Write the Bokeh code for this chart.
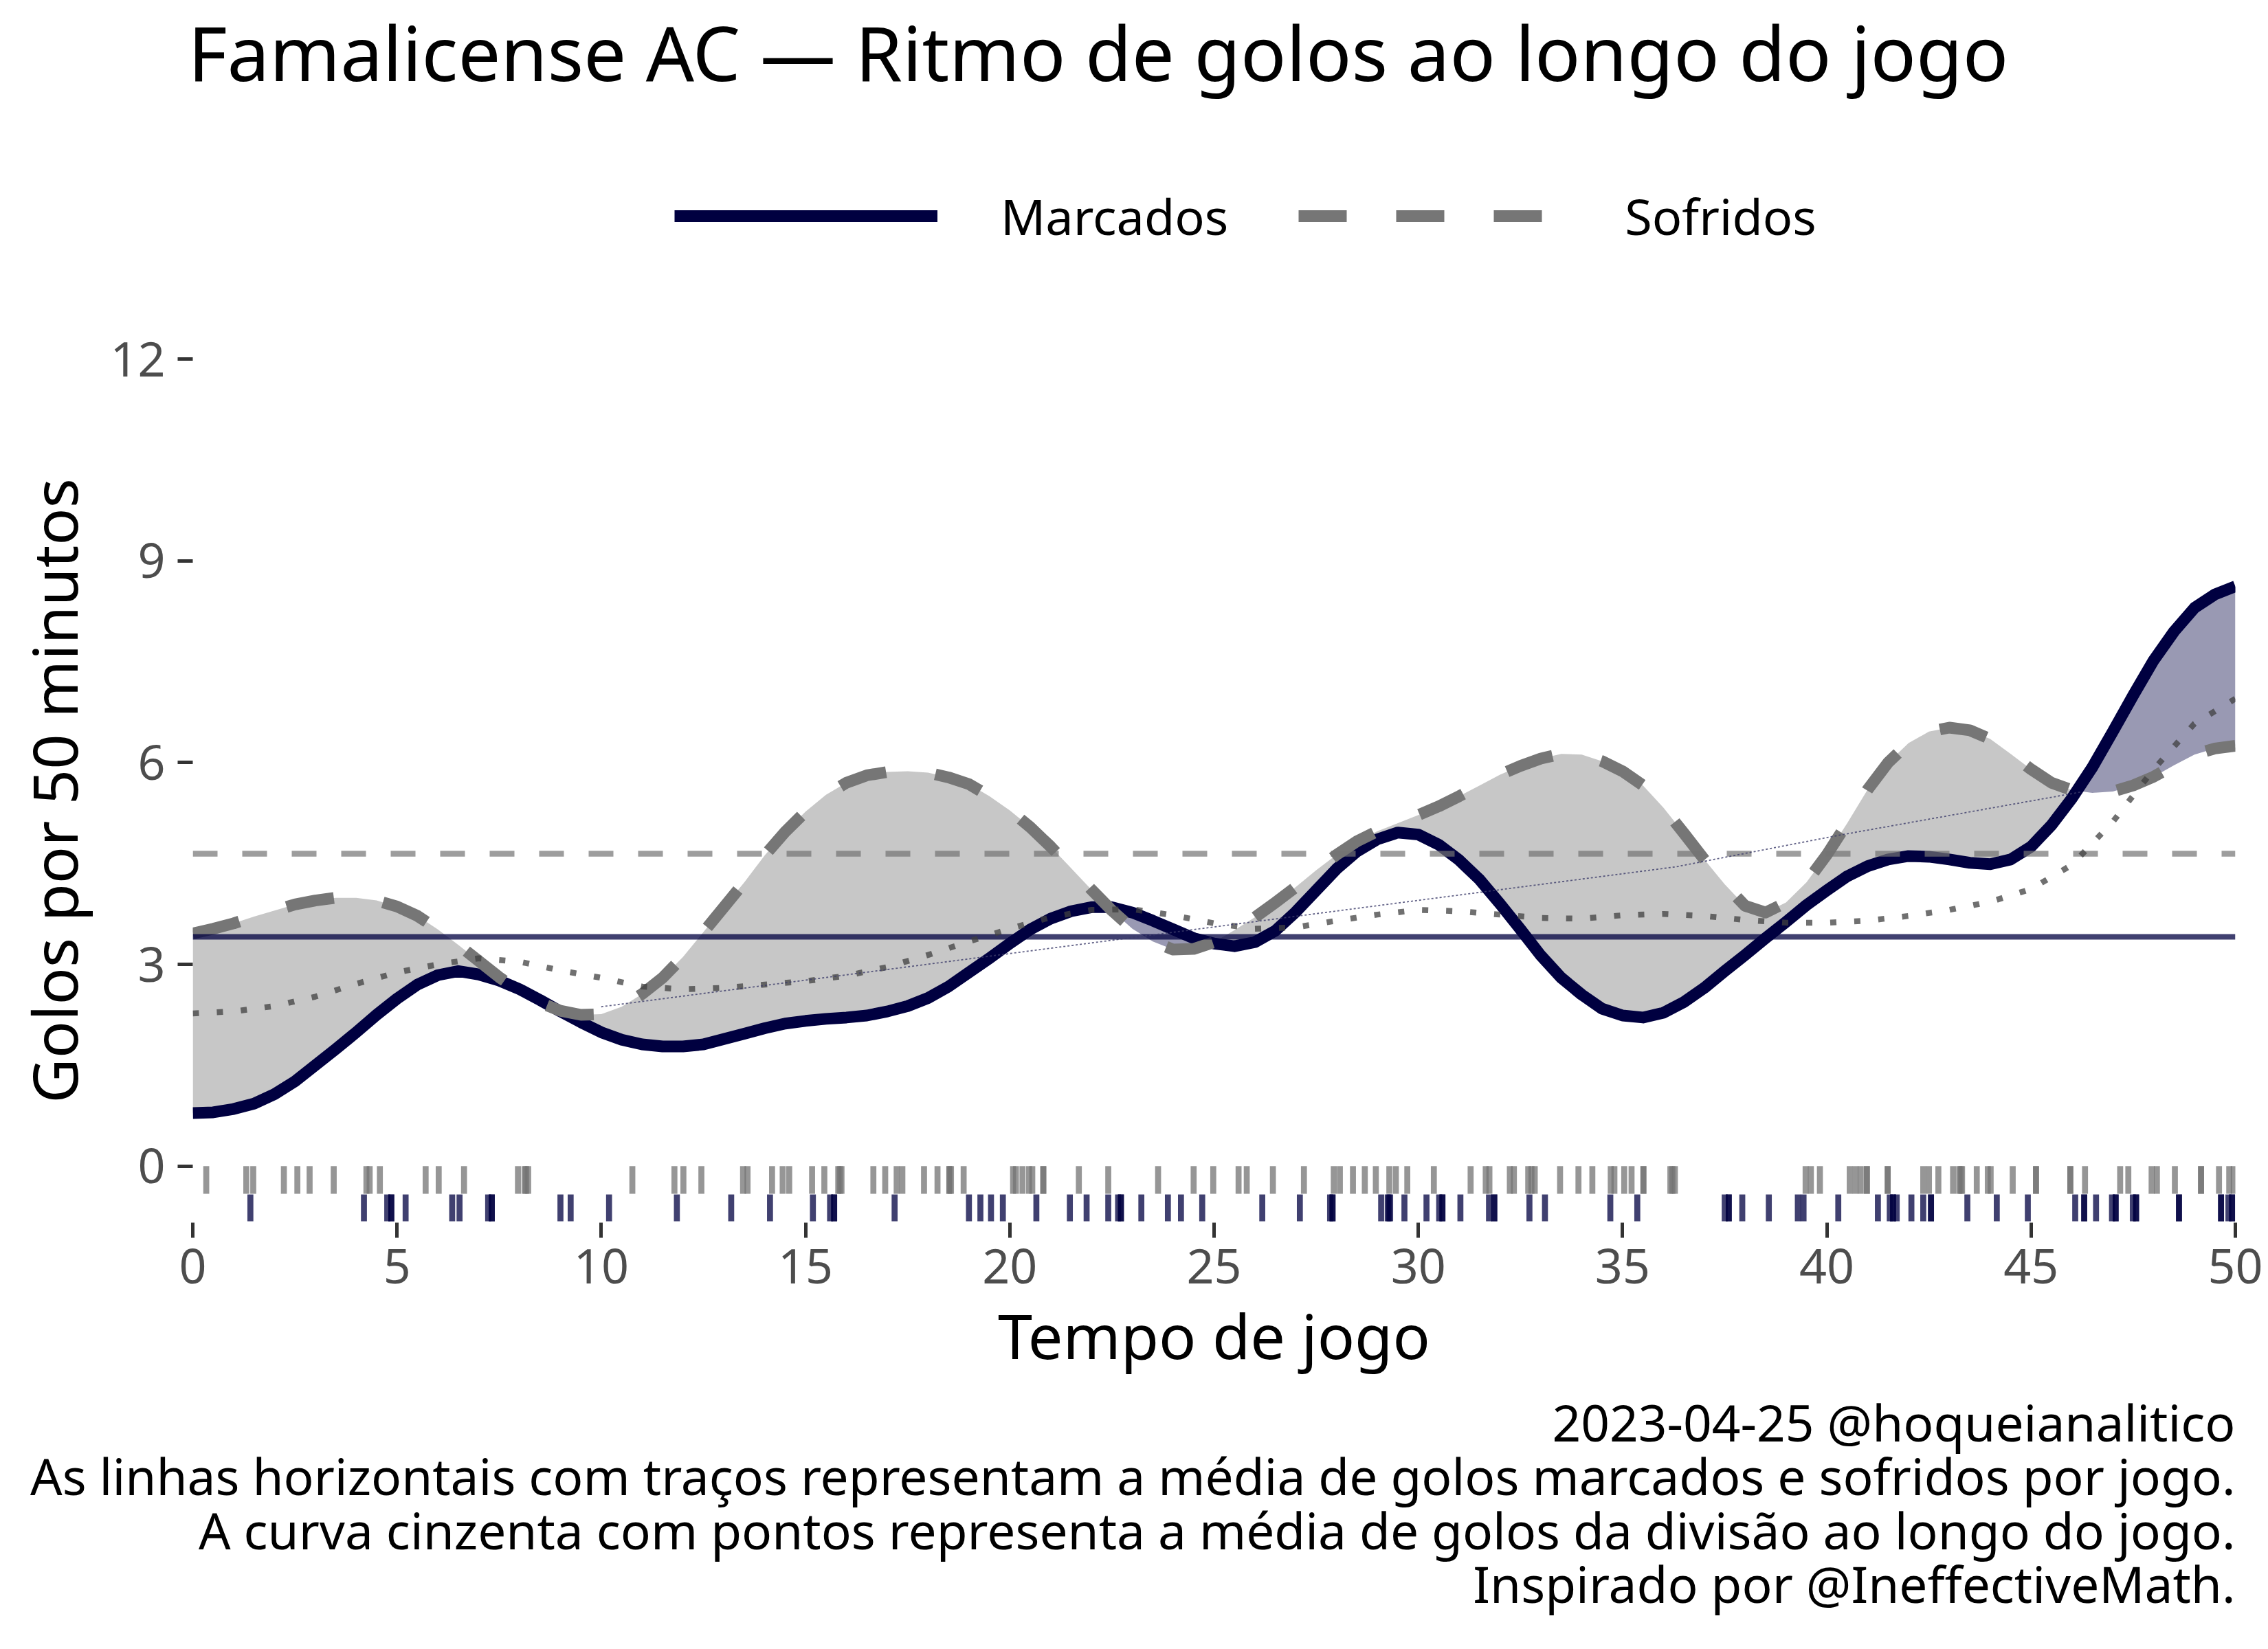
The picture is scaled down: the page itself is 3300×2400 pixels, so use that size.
import numpy as np
from bokeh.plotting import figure
from bokeh.layouts import column
from bokeh.models import Range1d, Legend, LegendItem, Label, FixedTicker
from bokeh.embed import file_html
from bokeh.resources import INLINE

# ---------------- data ----------------
minutos = [i * 0.5 for i in range(101)]
marcados = [0.79, 0.80, 0.85, 0.93, 1.07, 1.26, 1.50, 1.74, 1.99, 2.25,
            2.49, 2.70, 2.84, 2.90, 2.85, 2.76, 2.63, 2.47, 2.30, 2.14,
            1.99, 1.88, 1.81, 1.78, 1.78, 1.81, 1.89, 1.97, 2.05, 2.12,
            2.16, 2.19, 2.21, 2.24, 2.30, 2.38, 2.50, 2.67, 2.88, 3.09,
            3.31, 3.52, 3.68, 3.79, 3.85, 3.85, 3.77, 3.65, 3.52, 3.39,
            3.31, 3.27, 3.33, 3.50, 3.78, 4.10, 4.42, 4.68, 4.86, 4.96,
            4.93, 4.78, 4.55, 4.26, 3.90, 3.52, 3.13, 2.80, 2.55, 2.34,
            2.24, 2.21, 2.28, 2.44, 2.65, 2.90, 3.14, 3.39, 3.63, 3.88,
            4.10, 4.31, 4.46, 4.56, 4.61, 4.60, 4.56, 4.51, 4.49, 4.56,
            4.75, 5.07, 5.47, 5.93, 6.46, 7.00, 7.52, 7.95, 8.30, 8.50, 8.62]
sofridos = [3.46, 3.53, 3.61, 3.71, 3.80, 3.89, 3.95, 3.99, 3.99, 3.95,
            3.86, 3.72, 3.52, 3.29, 3.05, 2.81, 2.60, 2.43, 2.31, 2.25,
            2.26, 2.37, 2.56, 2.80, 3.11, 3.48, 3.85, 4.22, 4.62, 4.97,
            5.27, 5.52, 5.70, 5.81, 5.86, 5.87, 5.85, 5.78, 5.68, 5.50,
            5.29, 5.04, 4.75, 4.43, 4.11, 3.80, 3.53, 3.34, 3.22, 3.23,
            3.33, 3.51, 3.70, 3.92, 4.15, 4.40, 4.63, 4.83, 4.98, 5.10,
            5.22, 5.35, 5.50, 5.66, 5.82, 5.95, 6.06, 6.13, 6.12, 6.02,
            5.87, 5.66, 5.33, 4.95, 4.56, 4.19, 3.87, 3.77, 3.92, 4.22,
            4.63, 5.10, 5.60, 6.00, 6.29, 6.46, 6.52, 6.48, 6.35, 6.13,
            5.90, 5.70, 5.59, 5.55, 5.57, 5.66, 5.79, 5.96, 6.12, 6.21, 6.25]
minutos_liga = list(range(0, 51))
liga = [2.27, 2.30, 2.38, 2.52, 2.71, 2.88, 3.00, 3.09, 3.04, 2.91,
        2.80, 2.67, 2.63, 2.65, 2.70, 2.75, 2.83, 2.96, 3.14, 3.34,
        3.53, 3.70, 3.81, 3.82, 3.73, 3.61, 3.53, 3.55, 3.65, 3.74,
        3.81, 3.79, 3.74, 3.69, 3.68, 3.73, 3.75, 3.72, 3.66, 3.62,
        3.62, 3.65, 3.72, 3.81, 3.93, 4.12, 4.48, 5.12, 5.90, 6.58, 6.95]
media_marcados = 3.41
media_sofridos = 4.645
tendencia_x = [10.0, 36.3, 40.3, 46.2]
tendencia_y = [2.37, 4.45, 4.92, 5.56]

rug_sofridos = [0.33, 1.31, 1.48, 2.23, 2.56, 2.86, 3.45, 4.25, 4.33, 4.58, 5.70, 6.02, 6.64,
                7.96, 8.12, 8.21, 8.16, 10.76, 11.79, 12.01, 12.45, 13.47, 13.58, 14.18, 14.44,
                14.60, 15.16, 15.46, 15.80, 15.84, 15.88, 16.66, 16.95, 17.23, 17.37, 17.90,
                18.23, 18.52, 18.52, 18.56, 18.87, 20.08, 20.15, 20.31, 20.47, 20.55, 20.82,
                20.82, 21.69, 22.41, 23.63, 24.50, 24.98, 25.60, 25.80, 26.44, 27.20, 27.93,
                28.08, 28.40, 28.69, 28.96, 29.29, 29.45, 29.73, 30.38, 31.28, 31.65, 31.74,
                32.24, 32.34, 32.69, 32.77, 32.85, 33.47, 33.92, 34.26, 34.71, 34.80, 35.04,
                35.22, 35.51, 35.51, 36.17, 36.22, 36.28, 39.48, 39.61, 39.83, 40.56, 40.70,
                40.83, 40.98, 40.98, 41.49, 41.49, 42.36, 42.50, 42.73, 43.09, 43.24, 43.28,
                43.31, 43.67, 43.94, 44.01, 44.55, 45.12, 45.12, 45.96, 45.96, 46.32, 47.18,
                47.38, 47.95, 48.08, 48.52, 49.16, 49.16, 49.60, 49.85, 49.96]
rug_marcados = [1.41, 4.19, 4.76, 4.86, 4.86, 5.21, 6.35, 6.53, 7.23, 7.32, 7.32, 9.00, 9.25,
                10.19, 11.85, 13.18, 14.13, 15.18, 15.60, 15.70, 15.70, 17.18, 19.00, 19.28,
                19.54, 19.83, 20.65, 21.47, 21.88, 22.41, 22.65, 22.72, 22.72, 23.22, 23.87,
                24.19, 24.71, 26.18, 27.10, 27.84, 27.90, 27.90, 29.09, 29.25, 29.28, 29.31,
                29.66, 30.20, 30.51, 30.59, 30.59, 31.03, 31.73, 31.86, 31.86, 32.72, 33.10,
                34.70, 35.36, 37.50, 37.60, 37.60, 37.93, 38.58, 39.29, 39.43, 40.28, 41.25,
                41.54, 41.62, 41.62, 41.71, 42.07, 42.36, 42.55, 42.55, 43.44, 44.16, 44.92,
                46.08, 46.30, 46.30, 46.59, 46.98, 47.07, 47.07, 47.49, 47.57, 47.57, 48.62,
                48.62, 49.65, 49.65, 49.83, 49.92, 49.92]

x_ticks = [0, 5, 10, 15, 20, 25, 30, 35, 40, 45, 50]
y_ticks = [0, 3, 6, 9, 12]

titulo = "Famalicense AC \u2014 Ritmo de golos ao longo do jogo"
legenda = ["Marcados", "Sofridos"]
rotulo_x = "Tempo de jogo"
rotulo_y = "Golos por 50 minutos"
nota = ["2023-04-25 @hoqueianalitico",
        "As linhas horizontais com tra\u00e7os representam a m\u00e9dia de golos marcados e sofridos por jogo.",
        "A curva cinzenta com pontos representa a m\u00e9dia de golos da divis\u00e3o ao longo do jogo.",
        "Inspirado por @IneffectiveMath."]

# ---------------- styling constants ----------------
FONT = "Noto Sans"
NAVY = "#000040"
GREY = "#737373"
W = 3292
TOP_H = 462
CAP_H = 381

# ---------------- main figure ----------------
p = figure(frame_width=2972, frame_height=1257,
           x_range=Range1d(0, 50), y_range=Range1d(-0.84, 12),
           min_border_left=280, min_border_right=40,
           min_border_top=60, min_border_bottom=232,
           output_backend="svg", toolbar_location=None)
p.outline_line_color = None
p.background_fill_color = "white"
p.border_fill_color = "white"
p.xgrid.visible = False
p.ygrid.visible = False

x = np.array(minutos, dtype=float)
m = np.array(marcados)
s = np.array(sofridos)
top = np.maximum(m, s)

p.varea(x=x, y1=m, y2=top, fill_color=GREY, fill_alpha=0.4)
p.varea(x=x, y1=s, y2=top, fill_color=NAVY, fill_alpha=0.4)

p.line(x, m, line_color=NAVY, line_width=17, line_join="round")
p.line(x, s, line_color="#767676", line_width=17, line_dash="70 72", line_join="round")

p.line([0, 50], [media_marcados, media_marcados], line_color=NAVY, line_alpha=0.75, line_width=8)
p.line([0, 50], [media_sofridos, media_sofridos], line_color=GREY, line_alpha=0.7,
       line_width=8.5, line_dash="36 36")

p.line(minutos_liga, liga, line_color="#404040", line_alpha=0.75, line_width=8.5, line_dash="9 26")
p.line(tendencia_x, tendencia_y, line_color="#3c3c6a", line_alpha=0.8, line_width=1.8, line_dash="3 3")

p.segment(x0=rug_sofridos, y0=0, x1=rug_sofridos, y1=-0.41,
          line_color=GREY, line_alpha=0.75, line_width=8.7)
p.segment(x0=rug_marcados, y0=-0.42, x1=rug_marcados, y1=-0.82,
          line_color=NAVY, line_alpha=0.75, line_width=8.7)

for ax in (p.xaxis[0], p.yaxis[0]):
    ax.axis_line_color = None
    ax.major_tick_out = 22
    ax.major_tick_in = 0
    ax.major_tick_line_width = 5
    ax.major_tick_line_color = "#333333"
    ax.minor_tick_line_color = None
    ax.major_label_text_font = FONT
    ax.major_label_text_font_size = "70px"
    ax.major_label_text_color = "#4d4d4d"
    ax.axis_label_text_font = FONT
    ax.axis_label_text_font_size = "90px"
    ax.axis_label_text_font_style = "normal"
    ax.axis_label_text_color = "black"

p.xaxis.ticker = FixedTicker(ticks=x_ticks)
p.yaxis.ticker = FixedTicker(ticks=y_ticks)
p.xaxis.axis_label = rotulo_x
p.yaxis.axis_label = rotulo_y
p.xaxis.major_label_standoff = 16
p.xaxis.axis_label_standoff = 11
p.yaxis.major_label_standoff = 18
p.yaxis.axis_label_standoff = 18


def blank(h):
    f = figure(width=W, height=h, x_range=Range1d(0, W), y_range=Range1d(0, h),
               x_axis_type=None, y_axis_type=None, min_border=0,
               output_backend="svg", toolbar_location=None)
    f.outline_line_color = None
    f.background_fill_color = "white"
    f.border_fill_color = "white"
    return f


# header frame is aligned with the main frame (left edge at page x = 280)
head = blank(TOP_H)
head.add_layout(Label(x=-7, y=TOP_H - 124.5 + 50, x_units="screen", y_units="screen", text=titulo,
                      text_font=FONT, text_font_size="110px", text_color="black",
                      text_align="left", text_baseline="alphabetic"))
lm = head.line(x=[0], y=[0], line_color=NAVY, line_width=17)
ls = head.line(x=[0], y=[0], line_color="#767676", line_width=17, line_dash="70 72")
leg = Legend(items=[LegendItem(label=legenda[0], renderers=[lm]),
                    LegendItem(label=legenda[1], renderers=[ls])],
             orientation="horizontal", location=(701, TOP_H - 364),
             glyph_width=383, glyph_height=100, label_height=100,
             label_standoff=92, spacing=102, padding=0, margin=0,
             label_text_font=FONT, label_text_font_size="72px",
             label_text_color="black",
             border_line_color=None, background_fill_alpha=0)
head.add_layout(leg)

# caption in its own outer-level block so its frame spans the full width
cap = blank(CAP_H)
for line, yb in zip(nota, [323, 245, 166, 88]):
    cap.add_layout(Label(x=3252, y=yb, x_units="screen", y_units="screen", text=line,
                         text_font=FONT, text_font_size="73px", text_color="black",
                         text_align="right", text_baseline="alphabetic"))

layout = column(column(head, p, spacing=0), cap, spacing=0)
open("out.html", "w").write(file_html(layout, INLINE))
